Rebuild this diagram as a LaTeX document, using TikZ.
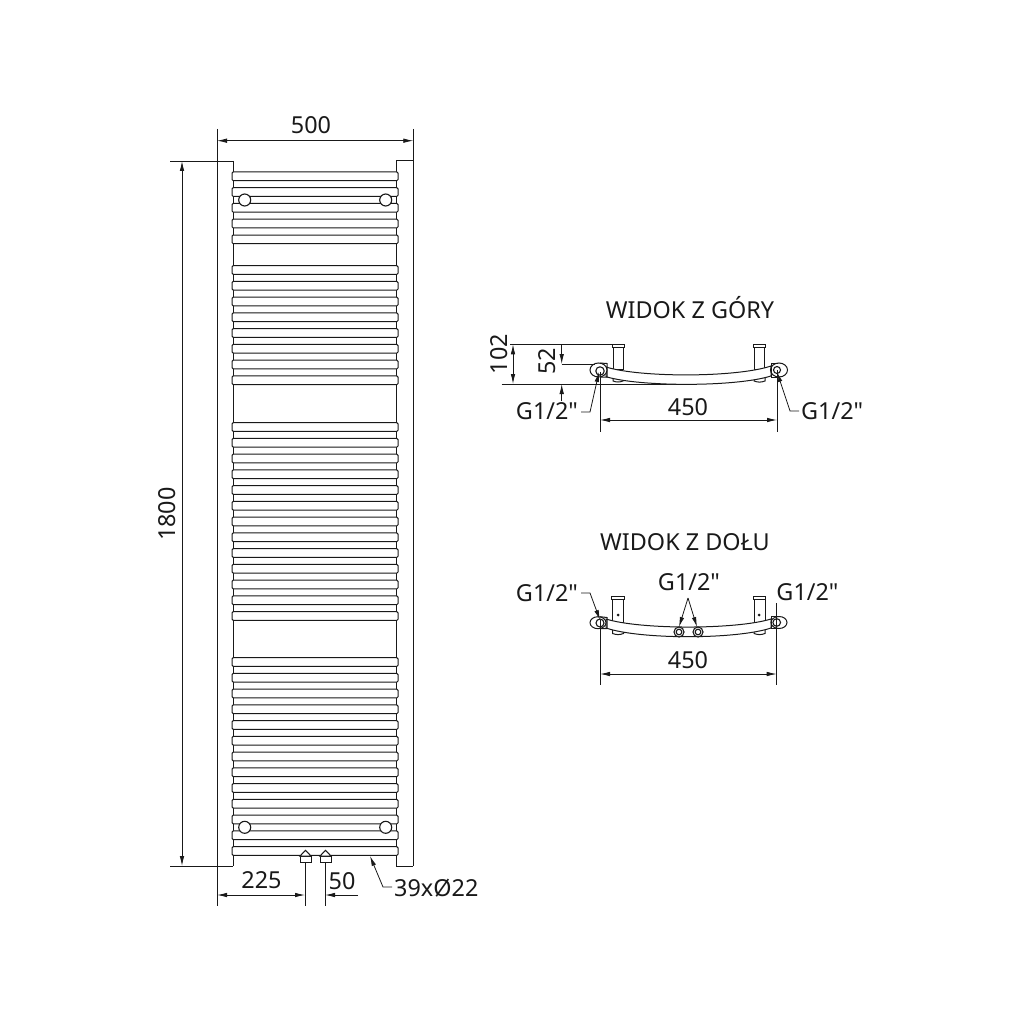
\documentclass[tikz,border=0pt]{standalone}
\usepackage{fontspec}
\newfontfamily\plainfont{Noto Sans}
\usetikzlibrary{arrows.meta}
\tikzset{
  x=1pt,y=-1pt,
  line/.style={draw=black!90,line width=1pt},
  dim/.style={draw=black!90,line width=0.8pt},
  tipp/.style={-{Latex[length=10pt,width=4.5pt]}},
  both/.style={{Latex[length=10pt,width=4.5pt]}-{Latex[length=10pt,width=4.5pt]}},
  lbl/.style={inner sep=0pt,font=\plainfont\fontsize{23.4}{25}\selectfont,text=black!90},
  hole/.style={draw=black!90,line width=1.1pt,fill=white},
}
\newcommand{\rbar}[1]{%
  \draw[line,fill=white,rounded corners=1.2pt] (232,#1) rectangle (398,#1+8.7);}
\begin{document}
\begin{tikzpicture}
\useasboundingbox (0,0) rectangle (1024,1024);
% rails
\draw[dim] (217,129) -- (217,906);
\draw[dim] (413.3,129) -- (413.3,866);
\draw[dim] (170,161) -- (233.3,161);
\draw[dim] (170,866) -- (233.3,866);
\draw[line] (233.3,161) -- (233.3,866);
\draw[line] (413.3,161) -- (396.7,161) -- (396.7,866) -- (413.3,866);
% bars
\foreach \i in {0,...,4}{\pgfmathsetmacro\yy{172+15.75*\i}\rbar{\yy}}
\foreach \i in {0,...,7}{\pgfmathsetmacro\yy{265.7+15.75*\i}\rbar{\yy}}
\foreach \i in {0,...,12}{\pgfmathsetmacro\yy{422.7+15.75*\i}\rbar{\yy}}
\foreach \i in {0,...,12}{\pgfmathsetmacro\yy{657.7+15.75*\i}\rbar{\yy}}
% mounts
\foreach \p in {(244.7,200),(385.7,200),(244.7,827.3),(385.7,827.3)}
  \draw[hole] \p circle (6);
% valves
\foreach \x in {300,320}{
  \draw[line,fill=white] (\x,862.5) rectangle (\x+11,856);
  \draw[line,fill=white] (\x,856) -- (\x+5.5,850.3) -- (\x+11,856) -- cycle;
}
% main dims
\node[lbl] (t500) at (311,125) {500};
\coordinate (d500a) at (217,140.7); \coordinate (d500b) at (413.3,140.7);
\draw[dim,both] (d500a) -- (d500b);
\node[lbl,rotate=90] (t1800) at (167,514) {1800};
\coordinate (d18a) at (182,161); \coordinate (d18b) at (182,866);
\draw[dim,both] (d18a) -- (d18b);
\node[lbl] (t225) at (261.5,880) {225};
\node[lbl] (t50) at (342,881) {50};
\coordinate (v1) at (305,862.5); \coordinate (v1b) at (305,906);
\coordinate (v2) at (325,862.5); \coordinate (v2b) at (325,906);
\draw[dim] (v1) -- (v1b); \draw[dim] (v2) -- (v2b);
\coordinate (d225a) at (217,895); \coordinate (d225b) at (305,895);
\draw[dim,both] (d225a) -- (d225b);
\coordinate (d50a) at (358,895); \coordinate (d50b) at (325,895);
\draw[dim,tipp] (d50a) -- (d50b);
\node[lbl,anchor=west] (tn) at (394,888) {39xØ22};
\coordinate (l1) at (392,887); \coordinate (l2) at (383,887); \coordinate (l3) at (370,856);
\draw[dim,tipp] (l1) -- (l2) -- (l3);
% top view
\node[lbl] (t1) at (690,308) {WIDOK Z GÓRY};
\draw[dim] (510,344.3) -- (625,344.3);
\draw[dim] (501.7,384) -- (688,384);
\draw[line,fill=white] (613,381) -- (613,374) -- (623,374) -- (623,381) to[bend left=20] cycle;
\draw[line,fill=white] (754,381) -- (754,374) -- (765,374) -- (765,381) to[bend left=20] cycle;
\foreach \x in {613,754}{
  \draw[line,fill=white] (\x,347) rectangle (\x+10.5,369);
  \draw[line,fill=white] (\x-0.8,344.3) rectangle (\x+11.5,347);
}
\draw[line,fill=white] (606,367) .. controls (640,377.7) and (736,377.7) .. (771,366)
  -- (771,376) .. controls (736,387) and (640,387) .. (606,376.7) -- cycle;
\draw[line,fill=white] (598.5,370) ellipse (8.5 and 7);
\draw[line] (600,363) -- (607,363.5) -- (607,377) -- (600,377);
\draw[line,fill=white] (779,370) ellipse (8.5 and 7);
\draw[line] (778,363) -- (771,363) -- (771,377) -- (778,377);
\draw[hole] (600,371) circle (4.2);
\draw[hole] (777,370) circle (3.5);
\coordinate (a1) at (513,344.3); \coordinate (a2) at (513,384);
\draw[dim,both] (a1) -- (a2);
\node[lbl,rotate=90] (t102) at (499,354) {102};
\coordinate (b1) at (561.7,344.3); \coordinate (b2) at (561.7,364); \coordinate (b3) at (561.7,401); \coordinate (b4) at (561.7,384);
\draw[dim,tipp] (b1) -- (b2); \draw[dim,tipp] (b3) -- (b4);
\draw[dim] (b2) -- (595,364);
\node[lbl,rotate=90] (t52) at (547,361) {52};
\node[lbl] (g1) at (547,411) {G1/2"};
\coordinate (c1) at (581,412); \coordinate (c2) at (590,412); \coordinate (c3) at (599,372);
\draw[dim,tipp] (c1) -- (c2) -- (c3);
\coordinate (e1) at (600,372); \coordinate (e1b) at (600,432);
\coordinate (e2) at (777,370); \coordinate (e2b) at (777,432);
\draw[dim] (e1) -- (e1b); \draw[dim] (e2) -- (e2b);
\draw[dim,both] (600,420) -- (777,420);
\node[lbl] (t450) at (688,407) {450};
\node[lbl,anchor=west] (g2) at (801,411) {G1/2"};
\coordinate (f1) at (799,411); \coordinate (f2) at (790,411); \coordinate (f3) at (777,372);
\draw[dim,tipp] (f1) -- (f2) -- (f3);
% bottom view
\node[lbl] (t2) at (685,542) {WIDOK Z DOŁU};
\draw[line,fill=white] (612.5,633.5) -- (612.5,626) -- (623.5,626) -- (623.5,633.5) to[bend left=20] cycle;
\draw[line,fill=white] (754,633.5) -- (754,626) -- (765,626) -- (765,633.5) to[bend left=20] cycle;
\foreach \x in {612.5,754}{
  \draw[line,fill=white] (\x,599) rectangle (\x+11,622);
  \draw[line,fill=white] (\x-0.7,596.5) rectangle (\x+11.7,599);
}
\fill[black!90] (618,615) circle (1.5);
\fill[black!90] (759,615) circle (1.5);
\draw[line,fill=white] (606,619) .. controls (640,629.7) and (736,629.7) .. (771,619)
  -- (771,628) .. controls (736,639.6) and (640,639.6) .. (606,628) -- cycle;
\draw[line,fill=white] (598,622.7) ellipse (8 and 6);
\draw[line] (600,616.7) -- (607,617.5) -- (607,628.5) -- (600,628.7);
\draw[line,fill=white] (779,622.5) ellipse (8 and 6);
\draw[line] (778,616.5) -- (771,616.5) -- (771,628.5) -- (778,628.5);
\draw[hole] (600,623) circle (4);
\draw[hole] (776.7,622.5) circle (3.8);
\foreach \x in {679,698}{
  \draw[hole] (\x,632) circle (5);
  \draw[hole] (\x,632) circle (2.8);
}
\node[lbl] (g3) at (547,593) {G1/2"};
\coordinate (h1) at (581,593); \coordinate (h2) at (590,593); \coordinate (h3) at (600,620);
\draw[dim,tipp] (h1) -- (h2) -- (h3);
\node[lbl] (g4) at (689,582) {G1/2"};
\coordinate (m0) at (688,598); \coordinate (m1) at (679,627); \coordinate (m2) at (697,627);
\draw[dim,tipp] (m0) -- (m1); \draw[dim,tipp] (m0) -- (m2);
\node[lbl] (g5) at (807.5,592) {G1/2"};
\coordinate (n1) at (600,620); \coordinate (n1b) at (600,685);
\coordinate (n2) at (776.7,603); \coordinate (n2b) at (776.7,685);
\draw[dim] (n1) -- (n1b); \draw[dim] (n2) -- (n2b);
\draw[dim,both] (600,674) -- (776.7,674);
\node[lbl] (t450b) at (688,660) {450};
\end{tikzpicture}
\end{document}
